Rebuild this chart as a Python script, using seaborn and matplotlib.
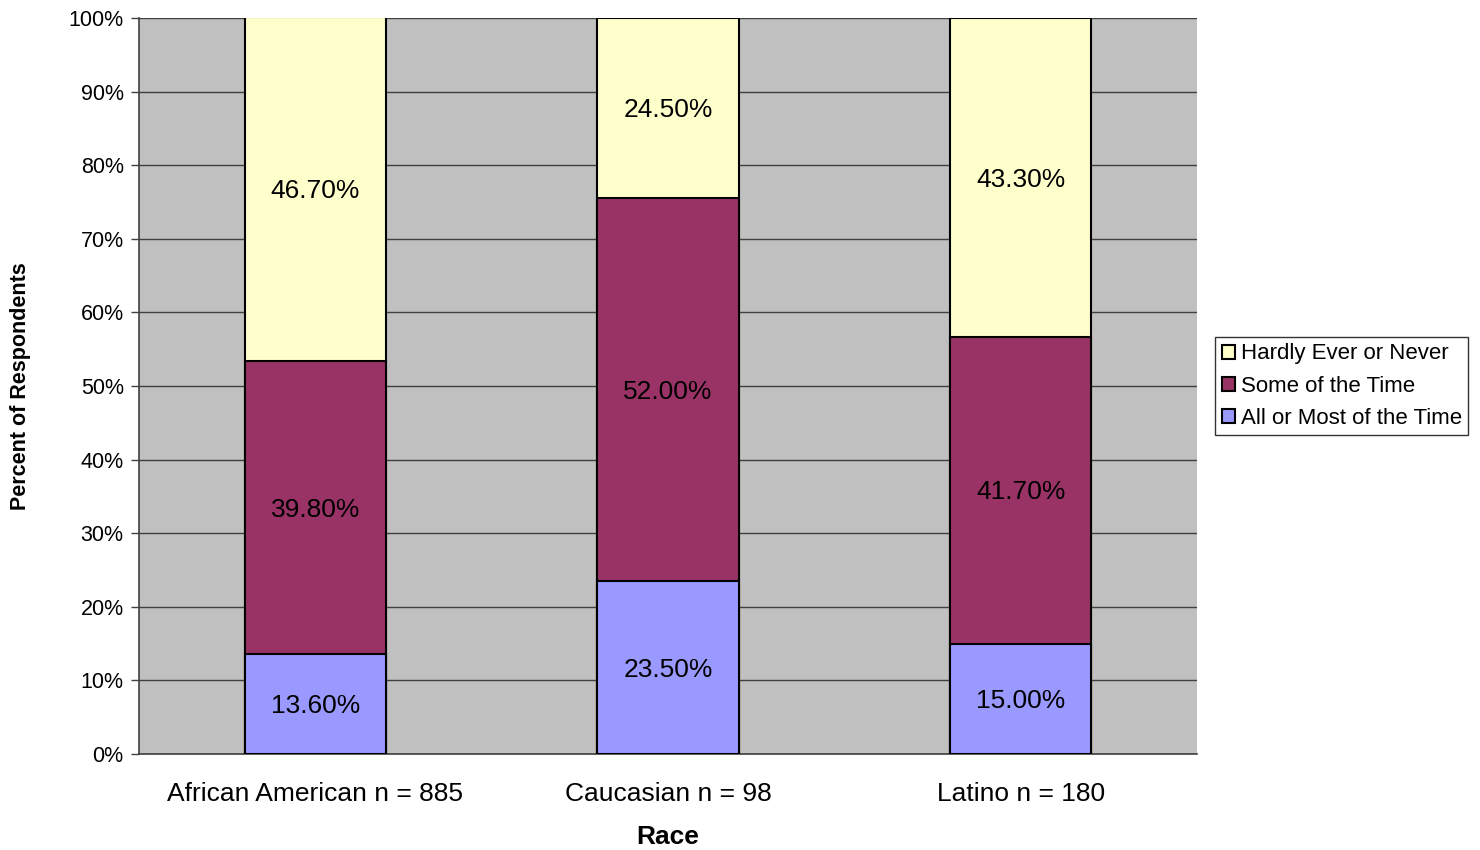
import pandas as pd
import numpy as np
import matplotlib.pyplot as plt
import seaborn as sns
from matplotlib.patches import Patch
from matplotlib.ticker import MultipleLocator, FixedLocator

races = ['African American n = 885', 'Caucasian n = 98', 'Latino n = 180']
all_most = [13.6, 23.5, 15.0]
some_time = [39.8, 52.0, 41.7]
hardly_never = [46.7, 24.5, 43.3]

series = ['All or Most of the Time', 'Some of the Time', 'Hardly Ever or Never']
colores = {'All or Most of the Time': '#9999FF',
           'Some of the Time': '#993366',
           'Hardly Ever or Never': '#FFFFCC'}

df = pd.DataFrame({'Race': races,
                   'All or Most of the Time': all_most,
                   'Some of the Time': some_time,
                   'Hardly Ever or Never': hardly_never})

sns.set_style('white')
plt.rcParams['font.family'] = ['Liberation Sans', 'DejaVu Sans']
plt.rcParams['text.color'] = 'black'

fig = plt.figure(figsize=(14.8, 8.5), dpi=100)
ax = fig.add_axes([0.0939, 0.1129, 0.8088 - 0.0939, 0.9788 - 0.1129])
ax.set_facecolor('#C0C0C0')

# cumulative heights, drawn from the top layer down so they overlap into a stack
acumulado = df[series].cumsum(axis=1)
for s in reversed(series):
    sns.barplot(x=df['Race'], y=acumulado[s], color=colores[s], width=0.4,
                edgecolor='black', linewidth=1.5, saturation=1, ax=ax, zorder=3)

# labels in the middle of each segment
bottoms = np.zeros(len(races))
for s in series:
    vals = df[s].values
    for i, v in enumerate(vals):
        ax.text(i, bottoms[i] + v / 2 - 0.3, f'{v:.2f}%', ha='center', va='center',
                fontsize=19, color='black', zorder=5)
    bottoms += vals

ax.set_ylim(0, 100)
ax.set_xlim(-0.5, 2.5)
ax.yaxis.set_major_locator(MultipleLocator(10))
ax.set_yticklabels([f'{int(t)}%' for t in ax.get_yticks()])
ax.grid(axis='y', color='#404040', linewidth=1, zorder=0)
ax.set_axisbelow(True)

# category labels centered, tick marks between categories
ax.xaxis.set_minor_locator(FixedLocator([-0.5, 0.5, 1.5, 2.5]))
ax.tick_params(axis='x', which='major', length=0, labelsize=19, pad=20,
               labelcolor='black')
ax.tick_params(axis='x', which='minor', length=6, width=1, color='#404040')
ax.tick_params(axis='y', length=6, width=1, color='#404040', labelsize=15.5, pad=5,
               direction='out', left=True, labelcolor='black')

for lado in ['top', 'right']:
    ax.spines[lado].set_visible(False)
for lado in ['left', 'bottom']:
    ax.spines[lado].set_color('#404040')
    ax.spines[lado].set_linewidth(1.2)

ax.set_xlabel('Race', fontsize=19, fontweight='bold', labelpad=14, color='black')
ax.set_ylabel('Percent of Respondents', fontsize=15.5, fontweight='bold',
              labelpad=27, color='black')

handles = [Patch(facecolor=colores[s], edgecolor='black', linewidth=1.5, label=s)
           for s in reversed(series)]
leg = ax.legend(handles=handles, loc='center left', bbox_to_anchor=(1.017, 0.5),
                fontsize=16, frameon=True, fancybox=False, edgecolor='black',
                handlelength=0.6, handleheight=0.6, handletextpad=0.25,
                borderpad=0.3, labelspacing=0.5, borderaxespad=0)
leg.get_frame().set_linewidth(1)

fig.savefig('out.png', dpi=100)
